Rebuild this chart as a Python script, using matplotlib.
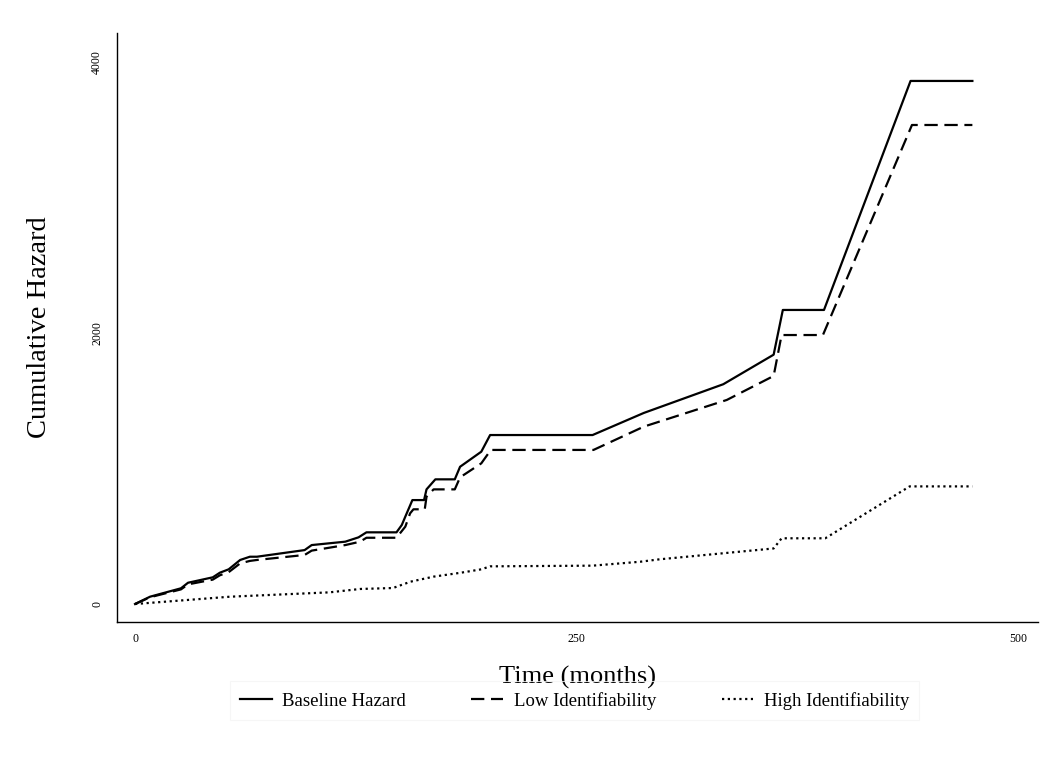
import matplotlib
matplotlib.use("Agg")
import matplotlib.pyplot as plt

# Data
time_base = [0, 8.5, 26, 30, 44, 48, 53, 59.5, 65, 69, 96, 100, 119, 126.5, 131, 148, 151, 153, 157, 163.6,
             165, 170, 181, 184, 196, 201, 259, 288, 333, 361.5, 366.7, 390, 439, 474]
baseline = [0, 54, 116, 157, 197, 231, 256, 325, 349, 349, 398, 435, 460, 492, 529, 529, 583, 645, 767, 767,
            846, 920, 920, 1013, 1124, 1247, 1247, 1410, 1622, 1840, 2170, 2170, 3860, 3860]

time_low = [0, 8.5, 26, 30, 44, 48, 53, 59.5, 65, 69, 96, 100, 119, 127.4, 131, 148, 153, 155.7, 157.6, 164,
            165, 169, 181, 184, 196, 201.4, 259.5, 288, 335, 361.5, 366, 389.4, 439.8, 474]
low_ident = [0, 50, 108, 145, 180, 212, 235, 300, 318, 325, 362, 394, 435, 460, 489, 489, 571, 669, 699, 699,
             792, 846, 846, 935, 1038, 1137, 1137, 1309, 1506, 1683, 1985, 1985, 3535, 3535]

time_high = [0, 53.8, 110, 127.4, 146, 156, 169, 184, 196, 201, 259, 286, 297, 361.5, 366, 390.7, 438.5, 474]
high_ident = [0, 54, 86, 111, 118, 165, 202, 230, 256, 278, 283, 312, 330, 410, 485, 485, 868, 868]

x_ticks = [0, 250, 500]
y_ticks = [0, 2000, 4000]
labels = ["Baseline Hazard", "Low Identifiability", "High Identifiability"]

plt.rcParams['font.family'] = ['Liberation Serif', 'DejaVu Serif']

fig = plt.figure(figsize=(10.6, 7.67), dpi=100)
ax = fig.add_axes([0.1104, 0.189, 0.8686, 0.768])

ax.plot(time_base, baseline, color='black', lw=1.6, ls='-', label=labels[0])
ax.plot(time_low, low_ident, color='black', lw=1.6, ls=(0, (6, 3)), label=labels[1])
ax.plot(time_high, high_ident, color='black', lw=1.6, ls=(0, (1, 1.6)), label=labels[2])

ax.set_xlim(-10.2, 511)
ax.set_ylim(-133, 4214)
ax.set_xticks(x_ticks)
ax.set_yticks(y_ticks)
ax.tick_params(axis='both', length=0, labelsize=8.5)
ax.tick_params(axis='y', pad=10)
ax.tick_params(axis='x', pad=8)
for lbl in ax.get_yticklabels():
    lbl.set_rotation(90)
    lbl.set_va('center')

for s in ['top', 'right']:
    ax.spines[s].set_visible(False)
for s in ['left', 'bottom']:
    ax.spines[s].set_linewidth(1.0)
    ax.spines[s].set_color('black')

ax.set_xlabel("Time (months)", fontsize=19, labelpad=15)
ax.set_ylabel("Cumulative Hazard", fontsize=20.5, labelpad=28)

leg = fig.legend(loc='center', bbox_to_anchor=(0.542, 0.0865), ncol=3, frameon=True,
                 fontsize=13.5, handlelength=1.7, columnspacing=3.5, handletextpad=0.55,
                 borderpad=0.25)
leg.get_frame().set_edgecolor('#f4f4f4')
leg.get_frame().set_facecolor('none')
leg.get_frame().set_linewidth(0.8)
leg.get_frame().set_boxstyle('square')

fig.savefig("out.png", dpi=100, facecolor='white')
